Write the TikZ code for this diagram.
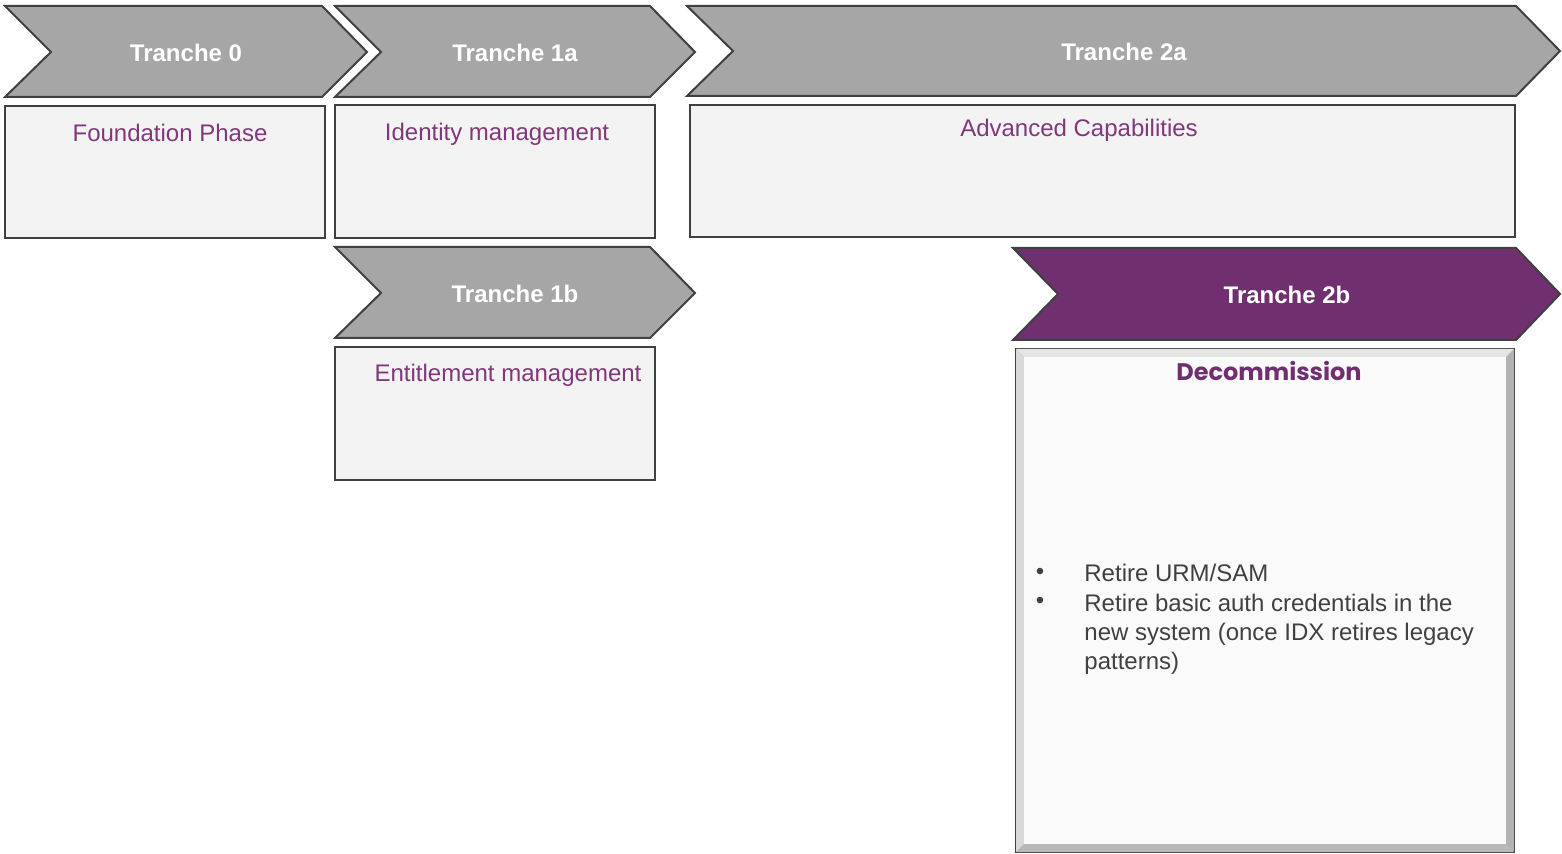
\documentclass[tikz,border=0pt]{standalone}
\usepackage{fontspec}
\setmainfont{Liberation Sans}
\newfontfamily\gothic{Poppins}
\definecolor{chevgrey}{RGB}{166,166,166}
\definecolor{edgegrey}{RGB}{64,64,64}
\definecolor{boxgrey}{RGB}{243,243,243}
\definecolor{plum}{RGB}{112,48,112}
\definecolor{plumtext}{RGB}{128,56,122}
\definecolor{bullettext}{RGB}{64,64,64}
\begin{document}
\begin{tikzpicture}[x=0.5pt,y=-0.5pt,
  chevron/.style={draw=edgegrey, line width=1pt, fill=chevgrey, line join=miter},
  phasebox/.style={draw=edgegrey, line width=1pt, fill=boxgrey},
  tranchelabel/.style={white, font=\fontsize{12}{14.5}\selectfont\bfseries},
  phaselabel/.style={plumtext, font=\fontsize{12}{14.5}\selectfont},
  itemlabel/.style={bullettext, font=\fontsize{12}{14.5}\selectfont, inner sep=0pt}]
\useasboundingbox (0,0) rectangle (1562,854);
% chevrons
\draw [chevron] (5,6) -- (322,6) -- (367,52) -- (322,97) -- (5,97) -- (51,52) -- cycle;
\draw [chevron] (335,6) -- (650,6) -- (695,52) -- (650,97) -- (335,97) -- (381,52) -- cycle;
\draw [chevron] (687,6) -- (1516,6) -- (1560,51) -- (1516,96) -- (687,96) -- (733,51) -- cycle;
\draw [chevron] (335,247) -- (650,247) -- (695,293) -- (650,338) -- (335,338) -- (381,293) -- cycle;
\draw [chevron, fill=plum] (1013,248) -- (1516,248) -- (1560,294) -- (1516,340) -- (1013,340) -- (1058,294) -- cycle;
\node [tranchelabel] (t0) at (186,53) {Tranche 0};
\node [tranchelabel] (t1a) at (515,53) {Tranche 1a};
\node [tranchelabel] (t2a) at (1124,52) {Tranche 2a};
\node [tranchelabel] (t1b) at (515,294) {Tranche 1b};
\node [tranchelabel] (t2b) at (1287,295) {Tranche 2b};
% boxes
\draw [phasebox] (5,106) rectangle (325,238);
\draw [phasebox] (335,105) rectangle (655,238);
\draw [phasebox] (690,105) rectangle (1515,237);
\draw [phasebox] (335,347) rectangle (655,480);
\node [phaselabel] (found) at (170,133) {Foundation Phase};
\node [phaselabel] (ident) at (497,134) {Identity management};
\node [phaselabel] (adv) at (1079,130) {Advanced Capabilities};
\node [phaselabel] (entit) at (508,375) {Entitlement management};
% decommission box with bevel
\draw [draw=edgegrey, line width=1.2pt, fill=gray!45] (1016,349) rectangle (1514,852);
\fill [gray!20] (1016,349) -- (1514,349) -- (1506,357) -- (1024,357) -- cycle;
\fill [gray!30] (1016,349) -- (1024,357) -- (1024,844) -- (1016,852) -- cycle;
\fill [gray!55] (1016,852) -- (1024,844) -- (1506,844) -- (1514,852) -- cycle;
\fill [gray!60] (1514,349) -- (1506,357) -- (1506,844) -- (1514,852) -- cycle;
\fill [white!98!black] (1024,357) rectangle (1506,844);
\node [plum, font=\fontsize{12}{14.5}\selectfont\gothic\bfseries] (decom) at (1269,371) {Decommission};
\node [itemlabel] (b1) at (1040,574) {•};
\node [itemlabel, anchor=base west] (i1) at (1084,582) {Retire URM/SAM};
\node [itemlabel] (b2) at (1040,603) {•};
\node [itemlabel, anchor=base west, align=left] (i2) at (1084,669) {Retire basic auth credentials in the\\new system (once IDX retires legacy\\patterns)};
\end{tikzpicture}
\end{document}
